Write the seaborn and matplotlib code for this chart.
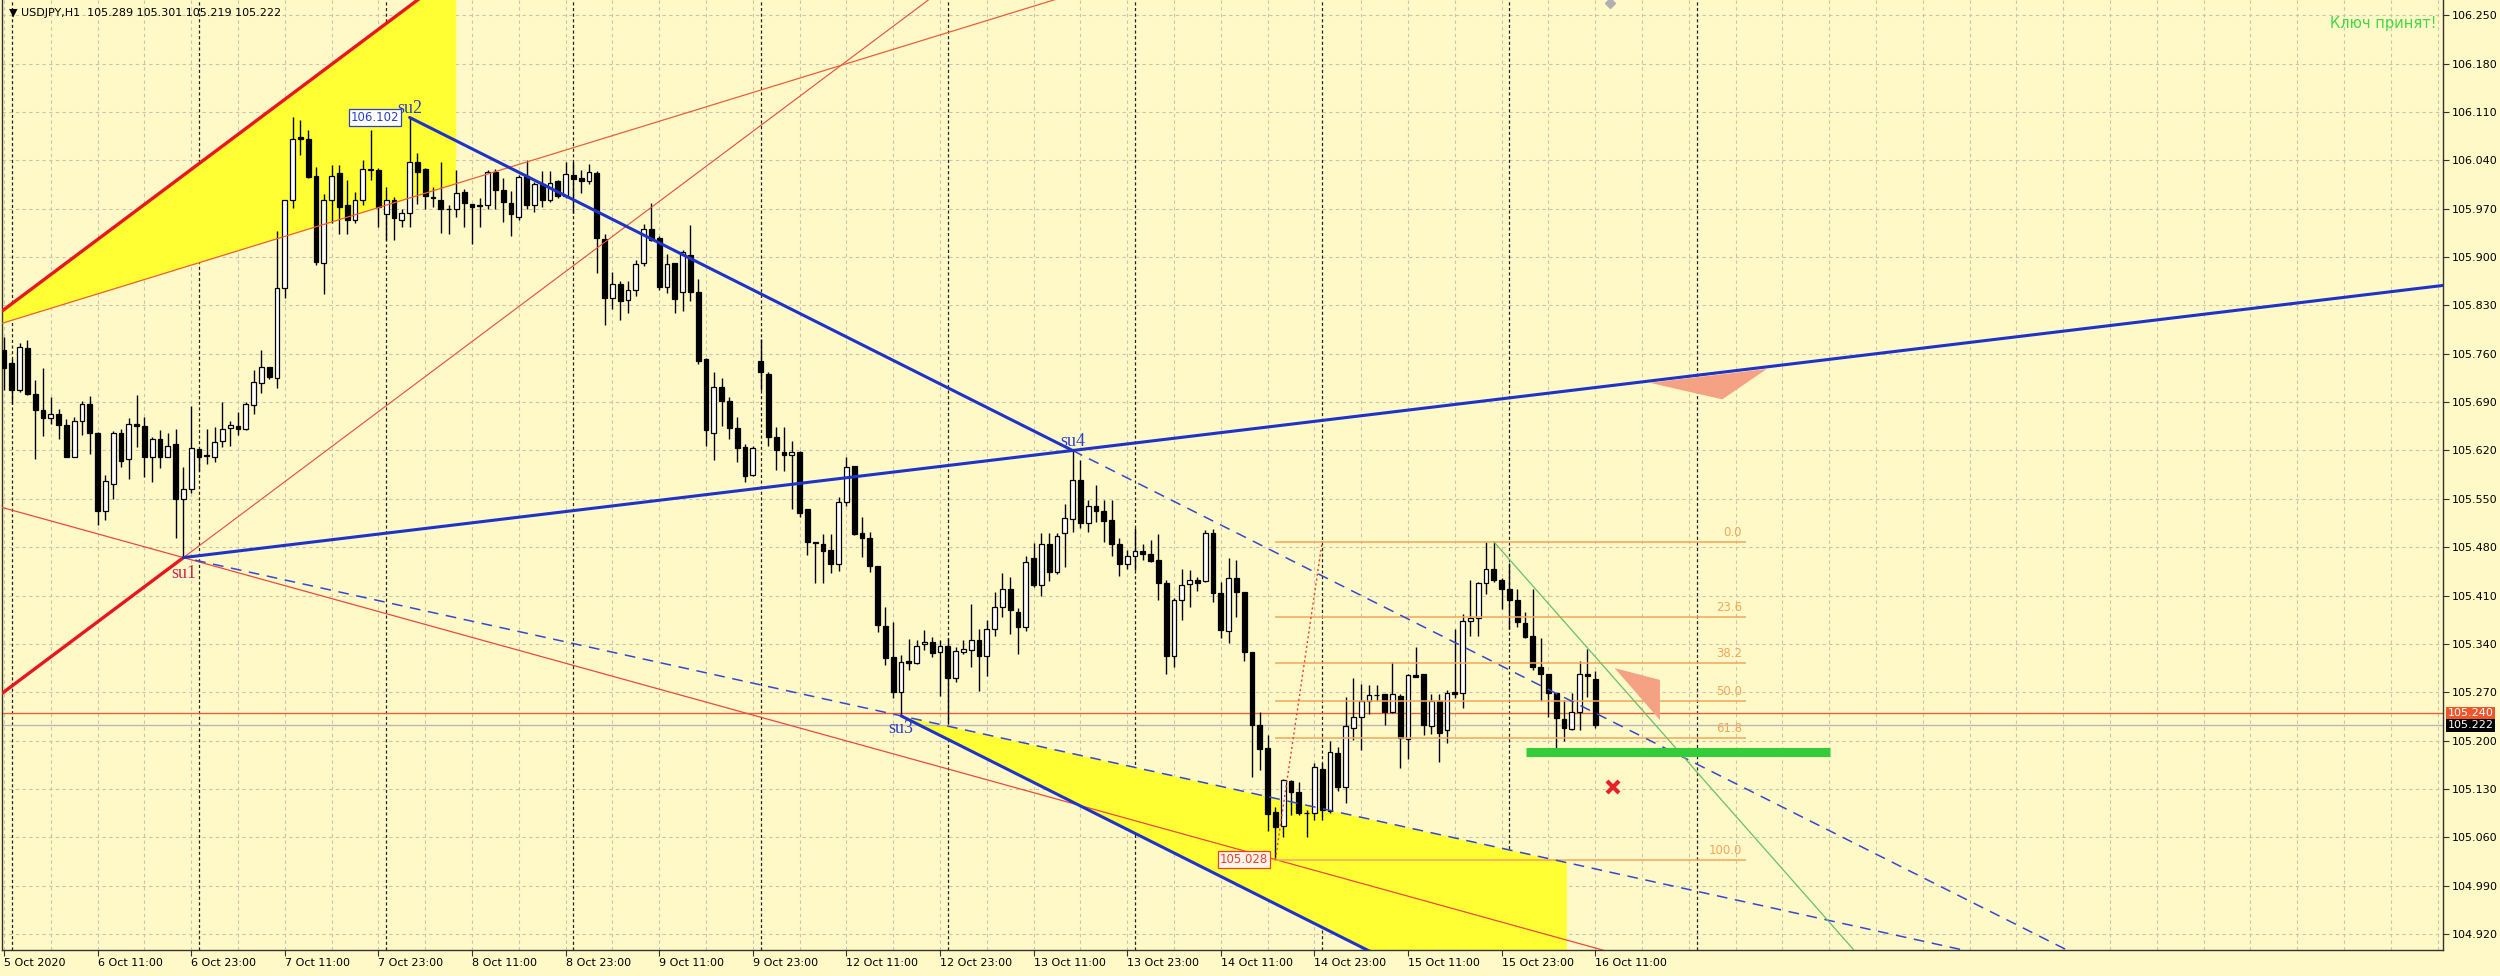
import numpy as np
import pandas as pd
import matplotlib
matplotlib.use("Agg")
import matplotlib.pyplot as plt
import matplotlib.transforms as mtransforms
import seaborn as sns

# USDJPY H1 bars, bar 0 = 5 Oct 23:00 (weekend gap removed)
opens = [105.765, 105.746, 105.707, 105.768, 105.702, 105.679, 105.667, 105.673, 105.657, 105.611,
         105.663, 105.688, 105.646, 105.532, 105.572, 105.646, 105.607, 105.659, 105.655, 105.610,
         105.637, 105.611, 105.629, 105.550, 105.564, 105.622, 105.613, 105.611, 105.634, 105.653,
         105.656, 105.651, 105.686, 105.717, 105.741, 105.725, 105.855, 105.983, 106.073, 106.071,
         106.017, 105.891, 105.983, 106.021, 105.975, 105.954, 105.983, 106.027, 106.026, 105.962,
         105.983, 105.954, 105.964, 106.038, 106.028, 105.986, 105.983, 105.970, 105.970, 105.994,
         105.977, 105.975, 105.975, 106.023, 105.997, 105.978, 105.958, 106.017, 105.975, 106.006,
         105.983, 106.010, 105.988, 106.018, 106.014, 106.010, 106.021, 105.926, 105.841, 105.861,
         105.838, 105.852, 105.891, 105.941, 105.928, 105.857, 105.891, 105.850, 105.903, 105.850,
         105.752, 105.646, 105.712, 105.692, 105.652, 105.625, 105.584, 105.750, 105.730, 105.639,
         105.618, 105.613, 105.618, 105.535, 105.487, 105.484, 105.476, 105.456, 105.546, 105.597,
         105.500, 105.494, 105.453, 105.366, 105.321, 105.271, 105.315, 105.312, 105.340, 105.343,
         105.328, 105.337, 105.291, 105.328, 105.331, 105.345, 105.323, 105.362, 105.393, 105.420,
         105.386, 105.364, 105.465, 105.426, 105.485, 105.444, 105.500, 105.521, 105.578, 105.515,
         105.539, 105.533, 105.519, 105.485, 105.455, 105.467, 105.475, 105.470, 105.461, 105.428,
         105.323, 105.403, 105.427, 105.432, 105.431, 105.501, 105.414, 105.359, 105.435, 105.415,
         105.328, 105.223, 105.190, 105.097, 105.076, 105.141, 105.126, 105.095, 105.095, 105.159,
         105.098, 105.182, 105.133, 105.219, 105.234, 105.257, 105.266, 105.267, 105.241, 105.264,
         105.203, 105.295, 105.296, 105.221, 105.257, 105.215, 105.270, 105.269, 105.373, 105.377,
         105.428, 105.449, 105.433, 105.419, 105.404, 105.370, 105.352, 105.307, 105.297, 105.269,
         105.232, 105.217, 105.241, 105.297, 105.289]
highs = [105.784, 105.753, 105.775, 105.780, 105.722, 105.740, 105.698, 105.680, 105.666, 105.668,
         105.691, 105.699, 105.647, 105.584, 105.648, 105.651, 105.667, 105.701, 105.669, 105.640,
         105.649, 105.645, 105.651, 105.596, 105.684, 105.622, 105.651, 105.654, 105.690, 105.663,
         105.675, 105.690, 105.736, 105.766, 105.741, 105.938, 105.983, 106.102, 106.099, 106.084,
         106.030, 105.991, 106.033, 106.033, 106.011, 105.994, 106.041, 106.084, 106.029, 106.001,
         105.987, 105.970, 106.102, 106.050, 106.029, 106.002, 106.038, 105.975, 106.026, 105.999,
         105.977, 105.986, 106.026, 106.028, 106.015, 105.996, 106.018, 106.040, 106.009, 106.025,
         106.025, 106.011, 106.038, 106.038, 106.026, 106.035, 106.025, 105.933, 105.878, 105.865,
         105.866, 105.896, 105.948, 105.978, 105.930, 105.905, 105.892, 105.910, 105.946, 105.868,
         105.754, 105.733, 105.725, 105.697, 105.668, 105.629, 105.627, 105.781, 105.734, 105.654,
         105.654, 105.634, 105.619, 105.535, 105.487, 105.499, 105.499, 105.553, 105.611, 105.598,
         105.524, 105.502, 105.453, 105.394, 105.372, 105.324, 105.347, 105.346, 105.360, 105.350,
         105.346, 105.348, 105.335, 105.345, 105.398, 105.362, 105.375, 105.415, 105.442, 105.437,
         105.392, 105.468, 105.486, 105.500, 105.501, 105.500, 105.543, 105.620, 105.606, 105.549,
         105.570, 105.548, 105.548, 105.493, 105.476, 105.508, 105.484, 105.490, 105.499, 105.432,
         105.406, 105.448, 105.447, 105.437, 105.505, 105.507, 105.430, 105.465, 105.461, 105.415,
         105.328, 105.241, 105.208, 105.104, 105.144, 105.143, 105.140, 105.099, 105.168, 105.167,
         105.199, 105.191, 105.263, 105.291, 105.282, 105.281, 105.281, 105.267, 105.314, 105.267,
         105.296, 105.336, 105.297, 105.268, 105.268, 105.273, 105.362, 105.383, 105.432, 105.430,
         105.488, 105.488, 105.435, 105.457, 105.420, 105.386, 105.420, 105.349, 105.297, 105.269,
         105.259, 105.269, 105.315, 105.333, 105.301]
lows = [105.707, 105.687, 105.704, 105.701, 105.608, 105.641, 105.658, 105.637, 105.610, 105.610,
        105.643, 105.615, 105.512, 105.519, 105.550, 105.596, 105.579, 105.625, 105.581, 105.575,
        105.595, 105.610, 105.494, 105.465, 105.559, 105.591, 105.600, 105.603, 105.625, 105.626,
        105.643, 105.650, 105.673, 105.703, 105.724, 105.711, 105.841, 105.971, 106.047, 106.015,
        105.889, 105.847, 105.949, 105.934, 105.934, 105.949, 105.975, 106.012, 105.943, 105.925,
        105.925, 105.944, 105.944, 105.977, 105.970, 105.973, 105.935, 105.934, 105.958, 105.943,
        105.919, 105.943, 105.970, 105.970, 105.951, 105.931, 105.954, 105.970, 105.965, 105.972,
        105.980, 105.986, 105.985, 105.964, 105.992, 106.006, 105.877, 105.802, 105.825, 105.809,
        105.819, 105.844, 105.887, 105.923, 105.853, 105.848, 105.819, 105.822, 105.836, 105.745,
        105.626, 105.606, 105.656, 105.636, 105.603, 105.574, 105.583, 105.708, 105.626, 105.592,
        105.590, 105.535, 105.524, 105.469, 105.428, 105.428, 105.443, 105.446, 105.539, 105.497,
        105.466, 105.444, 105.358, 105.309, 105.262, 105.236, 105.302, 105.311, 105.331, 105.321,
        105.264, 105.226, 105.285, 105.326, 105.307, 105.272, 105.294, 105.351, 105.379, 105.355,
        105.325, 105.359, 105.422, 105.410, 105.431, 105.441, 105.451, 105.502, 105.508, 105.502,
        105.517, 105.488, 105.468, 105.438, 105.449, 105.447, 105.462, 105.459, 105.403, 105.297,
        105.307, 105.375, 105.393, 105.417, 105.430, 105.401, 105.348, 105.341, 105.379, 105.316,
        105.147, 105.157, 105.070, 105.028, 105.060, 105.093, 105.092, 105.061, 105.085, 105.085,
        105.096, 105.127, 105.110, 105.201, 105.186, 105.239, 105.258, 105.223, 105.240, 105.161,
        105.174, 105.292, 105.208, 105.210, 105.169, 105.197, 105.262, 105.248, 105.352, 105.352,
        105.412, 105.430, 105.390, 105.362, 105.365, 105.349, 105.303, 105.258, 105.234, 105.181,
        105.200, 105.216, 105.216, 105.263, 105.219]
closes = [105.740, 105.707, 105.770, 105.702, 105.678, 105.667, 105.673, 105.657, 105.611, 105.663,
          105.688, 105.645, 105.532, 105.576, 105.646, 105.605, 105.659, 105.655, 105.610, 105.637,
          105.610, 105.626, 105.550, 105.564, 105.623, 105.611, 105.612, 105.633, 105.651, 105.657,
          105.651, 105.687, 105.719, 105.741, 105.726, 105.855, 105.983, 106.071, 106.071, 106.016,
          105.893, 105.983, 106.017, 105.972, 105.954, 105.982, 106.028, 106.026, 105.972, 105.983,
          105.957, 105.963, 106.038, 106.023, 105.988, 105.986, 105.970, 105.969, 105.993, 105.978,
          105.973, 105.974, 106.023, 105.997, 105.980, 105.962, 106.016, 105.975, 106.006, 105.983,
          106.007, 105.988, 106.020, 106.013, 106.010, 106.023, 105.928, 105.841, 105.861, 105.836,
          105.853, 105.890, 105.941, 105.925, 105.857, 105.890, 105.839, 105.907, 105.849, 105.749,
          105.649, 105.712, 105.691, 105.652, 105.624, 105.583, 105.624, 105.734, 105.640, 105.620,
          105.613, 105.618, 105.530, 105.487, 105.486, 105.475, 105.455, 105.546, 105.596, 105.499,
          105.494, 105.453, 105.367, 105.319, 105.271, 105.314, 105.313, 105.337, 105.343, 105.327,
          105.337, 105.291, 105.330, 105.332, 105.345, 105.323, 105.362, 105.393, 105.420, 105.389,
          105.364, 105.459, 105.425, 105.485, 105.444, 105.496, 105.523, 105.578, 105.515, 105.539,
          105.533, 105.518, 105.484, 105.455, 105.468, 105.475, 105.470, 105.460, 105.428, 105.323,
          105.403, 105.425, 105.433, 105.428, 105.501, 105.414, 105.360, 105.435, 105.415, 105.328,
          105.223, 105.188, 105.094, 105.075, 105.143, 105.126, 105.095, 105.095, 105.162, 105.099,
          105.183, 105.133, 105.221, 105.234, 105.257, 105.266, 105.266, 105.241, 105.267, 105.204,
          105.295, 105.292, 105.222, 105.257, 105.211, 105.269, 105.268, 105.373, 105.377, 105.428,
          105.449, 105.432, 105.419, 105.404, 105.372, 105.350, 105.306, 105.297, 105.269, 105.233,
          105.219, 105.241, 105.296, 105.293, 105.222]

time_labels = ["5 Oct 2020", "6 Oct 11:00", "6 Oct 23:00", "7 Oct 11:00", "7 Oct 23:00",
               "8 Oct 11:00", "8 Oct 23:00", "9 Oct 11:00", "9 Oct 23:00", "12 Oct 11:00",
               "12 Oct 23:00", "13 Oct 11:00", "13 Oct 23:00", "14 Oct 11:00", "14 Oct 23:00",
               "15 Oct 11:00", "15 Oct 23:00", "16 Oct 11:00"]
price_ticks = [104.920, 104.990, 105.060, 105.130, 105.200, 105.270, 105.340, 105.410,
               105.480, 105.550, 105.620, 105.690, 105.760, 105.830, 105.900, 105.970,
               106.040, 106.110, 106.180, 106.250]
day_starts = [1, 25, 49, 73, 97, 121, 145, 169, 193, 217]   # 00:00 bars

# marked swing points: (bar, price)
su_points = {"su1": (23, lows[23]), "su2": (52, highs[52]),
             "su3": (115, lows[115]), "su4": (137, highs[137])}
red_slope = 0.00845          # red channel slope, price per bar
red_upper_p0 = 105.824       # upper red channel line at bar 0
red_thin_p0, red_thin_slope = 105.805, 0.00347
fib_bars = [163, 169]
fib_low, fib_high = 105.028, 105.488
fib_levels = [0.0, 23.6, 38.2, 50.0, 61.8, 100.0]
green_slope = -0.0128
level_red, bid = 105.240, 105.222
support_zone = (195.1, 234.1, 105.183)
cross_mark = (206.3, 105.133)
tri_upper = [(211.0, 105.718), (226.0, 105.738), (220.3, 105.694)]
tri_lower = [(206.5, 105.305), (212.3, 105.288), (212.3, 105.230)]

BG = "#FFF9C8"
YELLOW = "#FFFF33"
BLUE = "#1F33C8"
ORANGE = "#F2A65E"

sns.set_style("white")
plt.rcParams["font.family"] = ["DejaVu Sans"]

X0, X1 = -0.26, 312.7
Y0, Y1 = 104.897, 106.272

fig = plt.figure(figsize=(25, 9.76), dpi=100, facecolor=BG)
ax = fig.add_axes([0.0008, 0.0266, 0.9764, 0.9734])
ax.set_facecolor(BG)


def line_at(x0, p0, slope, x):
    return p0 + slope * (x - x0)


def seg(xa, xb, x0, p0, slope, **kw):
    xs = [xa, xb]
    ys = [line_at(x0, p0, slope, v) for v in xs]
    sns.lineplot(x=xs, y=ys, ax=ax, **kw)


# grid and day separators
for p in price_ticks:
    ax.axhline(p, color="#C9C5AC", lw=0.8, ls=(0, (3, 3)), zorder=0)
for b in range(0, 313, 6):
    ax.axvline(b, color="#C9C5AC", lw=0.8, ls=(0, (3, 3)), zorder=0)
for b in day_starts:
    ax.axvline(b, color="#222222", lw=0.9, ls=(0, (2.5, 2)), zorder=1)

su1x, su1p = su_points["su1"]
su2x, su2p = su_points["su2"]
su3x, su3p = su_points["su3"]
su4x, su4p = su_points["su4"]
s24 = (su4p - su2p) / (su4x - su2x)
s14 = (su4p - su1p) / (su4x - su1x)
s13 = (su3p - su1p) / (su3x - su1x)
s1low = (fib_low - su1p) / (fib_bars[0] - su1x)

# yellow fills
xs = np.array([X0, 57.9])
ax.fill_between(xs, line_at(0, red_thin_p0, red_thin_slope, xs),
                line_at(0, red_upper_p0, red_slope, xs), color=YELLOW, lw=0, zorder=1)
xs = np.array([su3x, 200.3])
ax.fill_between(xs, line_at(su3x, su3p, s24, xs), line_at(su1x, su1p, s13, xs),
                color=YELLOW, lw=0, zorder=1)

# candles
df = pd.DataFrame({"open": opens, "high": highs, "low": lows, "close": closes})
df["bar"] = np.arange(len(df))
up = df["close"] >= df["open"]
body_lo = df[["open", "close"]].min(axis=1)
body_h = (df["close"] - df["open"]).abs().clip(lower=0.0007)
ax.vlines(df["bar"], df["low"], df["high"], color="black", lw=1.0, zorder=3)
ax.bar(df["bar"][up], body_h[up], bottom=body_lo[up], width=0.62, color="white",
       edgecolor="black", lw=0.9, zorder=4)
ax.bar(df["bar"][~up], body_h[~up], bottom=body_lo[~up], width=0.62, color="black",
       edgecolor="black", lw=0.9, zorder=4)

# red lines
seg(X0, su1x, su1x, su1p, red_slope, color="#E8161E", lw=2.4, zorder=5)
seg(su1x, 140, su1x, su1p, red_slope, color="#E84A40", lw=0.8, zorder=5)
seg(X0, 70, 0, red_upper_p0, red_slope, color="#E8161E", lw=2.4, zorder=5)
seg(X0, 150, 0, red_thin_p0, red_thin_slope, color="#E8603C", lw=0.9, zorder=5)
seg(X0, 240, su1x, su1p, s1low, color="#E84A40", lw=0.9, zorder=5)

# blue lines
seg(su2x, su4x, su2x, su2p, s24, color=BLUE, lw=2.2, zorder=6)
seg(su4x, 280, su2x, su2p, s24, color="#3548D0", lw=1.1, ls=(0, (7, 5)), zorder=6)
seg(su1x, X1, su1x, su1p, s14, color=BLUE, lw=2.2, zorder=6)
seg(su1x + 1.5, 280, su1x, su1p, s13, color="#3548D0", lw=1.1, ls=(0, (7, 5)), zorder=6)
seg(su3x, 200, su3x, su3p, s24, color=BLUE, lw=2.2, zorder=6)

# fibonacci
fib_end = 223.4
ax.plot(fib_bars, [fib_low, fib_high], color="#E8402A", lw=1.0, ls=(0, (1.5, 2)), zorder=6)
for lv in fib_levels:
    p = fib_high - (fib_high - fib_low) * lv / 100
    ax.hlines(p, fib_bars[0], fib_end, color=ORANGE, lw=1.1, zorder=5)
    ax.text(fib_end - 0.6, p + 0.004, f"{lv:.1f}", color=ORANGE, fontsize=8.5,
            ha="right", va="bottom", zorder=7)

# green trend line and support zone
seg(191, 260, 191, highs[191], green_slope, color="#68C068", lw=0.9, zorder=6)
ax.hlines(support_zone[2], support_zone[0], support_zone[1], color="#33CC3A", lw=6.5, zorder=6)

# price lines
ax.axhline(level_red, color="#E8603C", lw=1.0, zorder=2)
ax.axhline(bid, color="#B8B8B8", lw=1.0, zorder=2)

# triangles and cross
for tri in (tri_upper, tri_lower):
    ax.fill([t[0] for t in tri], [t[1] for t in tri], color="#F5A183", lw=0, zorder=6)
ax.plot([cross_mark[0]], [cross_mark[1]], marker="x", ms=9, mew=3, color="#E8202A", zorder=7)

# labels of swing points
serif = ["Liberation Serif", "DejaVu Serif"]
ax.annotate("su1", (su1x, su1p), xytext=(0, -5), textcoords="offset points", ha="center",
            va="top", fontsize=13, color="#C8285A", family=serif, zorder=8)
for name, dy, va in (("su2", 0, "bottom"), ("su3", -3, "top"), ("su4", 0, "bottom")):
    bx, bp = su_points[name]
    ax.annotate(name, (bx, bp), xytext=(0, dy), textcoords="offset points", ha="center",
                va=va, fontsize=13, color="#2A3FC8", family=serif, zorder=8)

ax.text(su2x - 1.3, su2p, f"{su2p:.3f}", ha="right", va="center", fontsize=8.5, color="#2A3FC8",
        zorder=8, bbox=dict(boxstyle="square,pad=0.15", fc="white", ec="#2A3FC8", lw=0.9))
ax.text(fib_bars[0] - 0.9, fib_low, f"{fib_low:.3f}", ha="right", va="center", fontsize=8.5,
        color="#E8402A", zorder=8,
        bbox=dict(boxstyle="square,pad=0.15", fc="#FFF5EC", ec="#E8402A", lw=0.9))

# top texts
ax.text(0.003, 0.992, "▼ USDJPY,H1  105.289 105.301 105.219 105.222", transform=ax.transAxes,
        ha="left", va="top", fontsize=8, color="black")
ax.text(0.9975, 0.983, "Ключ принят!", transform=ax.transAxes, ha="right", va="top",
        fontsize=10.5, color="#44D944")
ax.plot([205.9], [Y1 - 0.004], marker="D", ms=5, color="#B0B0B0", zorder=8, clip_on=False)

# axes
ax.set_xlim(X0, X1)
ax.set_ylim(Y0, Y1)
ax.yaxis.tick_right()
ax.set_yticks(price_ticks)
ax.set_yticklabels([f"{p:.3f}" for p in price_ticks])
ax.set_xticks(range(0, 12 * len(time_labels), 12))
ax.set_xticklabels(time_labels)
for lbl in ax.get_xticklabels():
    lbl.set_ha("left")
ax.tick_params(axis="both", labelsize=8, length=4, width=0.8, color="#333333",
               labelcolor="black", pad=2)
ax.tick_params(axis="y", right=True, left=False)
ax.tick_params(axis="x", bottom=True)
ax.set_xlabel("")
ax.set_ylabel("")
for side in ("left", "right", "bottom"):
    ax.spines[side].set_color("#333333")
    ax.spines[side].set_linewidth(1.0)
ax.spines["top"].set_visible(False)

# current price boxes on the price scale
trans = mtransforms.blended_transform_factory(ax.transAxes, ax.transData)
ax.text(1.0018, level_red, f"{level_red:.3f}", transform=trans, ha="left", va="center",
        fontsize=8, color="white", clip_on=False,
        bbox=dict(boxstyle="square,pad=0.12", fc="#F05428", ec="none"))
ax.text(1.0018, bid, f"{bid:.3f}", transform=trans, ha="left", va="center",
        fontsize=8, color="white", clip_on=False,
        bbox=dict(boxstyle="square,pad=0.12", fc="black", ec="none"))

fig.savefig("out.png", dpi=100, facecolor=BG)
